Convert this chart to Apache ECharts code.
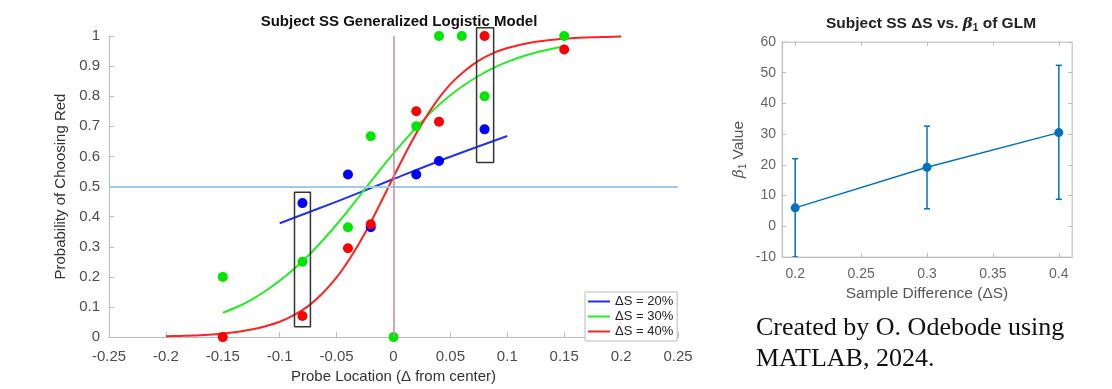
<!DOCTYPE html>
<html>
<head>
<meta charset="utf-8">
<script src="https://cdn.jsdelivr.net/npm/echarts@6/dist/echarts.min.js"></script>
<style>
  html, body { margin: 0; padding: 0; background: #fff; }
  #main { width: 1112px; height: 389px; }
</style>
</head>
<body>
<div id="main"></div>
<script>
// ---- left panel: observed proportions (probe location vs. P(red)) ----
var blueX = [-0.08, -0.04, -0.02, 0.02, 0.04, 0.08];
var blueY = [0.445, 0.54, 0.365, 0.54, 0.585, 0.69];
var greenX = [-0.15, -0.08, -0.04, -0.02, 0, 0.02, 0.04, 0.06, 0.08, 0.15];
var greenY = [0.2, 0.25, 0.365, 0.667, 0, 0.7, 1, 1, 0.8, 1];
var redX = [-0.15, -0.08, -0.04, -0.02, 0.02, 0.04, 0.08, 0.15];
var redY = [0, 0.07, 0.295, 0.375, 0.75, 0.715, 1, 0.955];

// fitted curves
var fitBlueX = [-0.1, -0.05, 0, 0.05, 0.1];
var fitBlueY = [0.378, 0.45, 0.525, 0.599, 0.668];
var fitGreenX = [-0.15, -0.1375, -0.125, -0.1125, -0.1, -0.0875, -0.075, -0.0625, -0.05, -0.0375, -0.025, -0.0125,
  0, 0.0125, 0.025, 0.0375, 0.05, 0.0625, 0.075, 0.0875, 0.1, 0.1125, 0.125, 0.1375, 0.15];
var fitGreenY = [0.081, 0.1, 0.124, 0.153, 0.187, 0.226, 0.27, 0.32, 0.374, 0.432, 0.492, 0.552,
  0.61, 0.665, 0.716, 0.763, 0.803, 0.838, 0.868, 0.893, 0.914, 0.931, 0.945, 0.956, 0.965];
var fitRedX = [-0.2, -0.1875, -0.175, -0.1625, -0.15, -0.1375, -0.125, -0.1125, -0.1, -0.0875, -0.075, -0.0625,
  -0.05, -0.0375, -0.025, -0.0125, 0, 0.0125, 0.025, 0.0375, 0.05, 0.0625, 0.075, 0.0875, 0.1, 0.1125,
  0.125, 0.1375, 0.15, 0.1625, 0.175, 0.1875, 0.2];
var fitRedY = [0.003, 0.004, 0.005, 0.008, 0.012, 0.017, 0.025, 0.036, 0.051, 0.073, 0.103, 0.145,
  0.198, 0.266, 0.346, 0.437, 0.532, 0.625, 0.709, 0.781, 0.84, 0.884, 0.918, 0.943, 0.96, 0.972,
  0.981, 0.987, 0.991, 0.994, 0.996, 0.997, 0.998];

// highlighted groups [x0, y0, x1, y1]
var boxRanges = [[-0.087, 0.034, -0.073, 0.481], [0.073, 0.58, 0.088, 1.027]];
var legendNames = ['ΔS = 20%', 'ΔS = 30%', 'ΔS = 40%'];

// ---- right panel: beta1 vs sample difference ----
var dsX = [0.2, 0.3, 0.4];
var beta1 = [6, 19.2, 30.5];
var betaLo = [-10, 5.7, 8.8];
var betaHi = [22, 32.6, 52.4];
var dsTicks = [0.2, 0.25, 0.3, 0.35, 0.4];

function zip(xs, ys) {
  return xs.map(function (x, i) { return [x, ys[i]]; });
}
function boxPath(b) {
  return [[b[0], b[1]], [b[2], b[1]], [b[2], b[3]], [b[0], b[3]], [b[0], b[1]]];
}

var FONT = '"Liberation Sans", Arial, sans-serif';
var axisGray = '#bdbdbd';
var labelGray = '#4d4d4d';
var matBlue = '#0072BD';

var chart = echarts.init(document.getElementById('main'));

var leftAxisCommon = {
  axisLine: { show: true, onZero: false, lineStyle: { color: axisGray, width: 1.2 } },
  axisTick: { show: true, inside: true, length: 5, lineStyle: { color: axisGray } },
  splitLine: { show: false },
  nameLocation: 'middle',
  nameTextStyle: { fontFamily: FONT, fontSize: 15, color: '#333' }
};

var option = {
  backgroundColor: '#fff',
  animation: false,
  title: [
    {
      text: 'Subject SS Generalized Logistic Model',
      left: 394, top: 9, textAlign: 'center',
      textStyle: { fontFamily: FONT, fontSize: 15, fontWeight: 'bold', color: '#111' }
    },
    {
      text: '{t|Subject SS ΔS vs. }{b|β}{s|1}{t| of GLM}',
      left: 926, top: 10, textAlign: 'center',
      textStyle: {
        rich: {
          t: { fontFamily: FONT, fontSize: 15.5, fontWeight: 'bold', color: '#222' },
          b: { fontFamily: '"DejaVu Serif", serif', fontStyle: 'italic', fontSize: 15, color: '#222' },
          s: { fontFamily: FONT, fontSize: 10, fontWeight: 'bold', color: '#222', padding: [8, 0, 0, 0] }
        }
      }
    }
  ],
  legend: {
    data: legendNames,
    orient: 'vertical',
    left: 585, top: 292,
    icon: 'rect', itemWidth: 22, itemHeight: 2, itemGap: 2,
    padding: [3, 4, 3, 3],
    borderColor: '#bbb', borderWidth: 1, backgroundColor: '#fff',
    textStyle: { fontFamily: FONT, fontSize: 13, color: '#222' }
  },
  grid: [
    { left: 109, right: 434, top: 36, bottom: 41 },
    { left: 782, right: 40, top: 42, bottom: 132, show: true, borderColor: '#cfcfcf', borderWidth: 1 }
  ],
  xAxis: [
    Object.assign({}, leftAxisCommon, {
      gridIndex: 0, type: 'value', min: -0.25, max: 0.25, interval: 0.05,
      name: 'Probe Location (Δ from center)', nameGap: 31,
      axisLabel: { fontFamily: FONT, fontSize: 15, color: labelGray, margin: 12 }
    }),
    {
      gridIndex: 1, type: 'value', min: 0.19, max: 0.41,
      name: 'Sample Difference (ΔS)', nameLocation: 'middle', nameGap: 29,
      nameTextStyle: { fontFamily: FONT, fontSize: 15.5, color: '#555' },
      axisLine: { show: true, onZero: false, lineStyle: { color: axisGray } },
      axisTick: { show: true, inside: true, length: 4, lineStyle: { color: axisGray }, customValues: dsTicks },
      axisLabel: { fontFamily: FONT, fontSize: 14, color: '#666', margin: 10, customValues: dsTicks },
      splitLine: { show: false }
    },
    {
      gridIndex: 1, type: 'value', position: 'top', min: 0.19, max: 0.41,
      axisLine: { show: true, onZero: false, lineStyle: { color: '#cfcfcf' } },
      axisTick: { show: true, inside: true, length: 4, lineStyle: { color: axisGray }, customValues: dsTicks },
      axisLabel: { show: false },
      splitLine: { show: false }
    }
  ],
  yAxis: [
    Object.assign({}, leftAxisCommon, {
      gridIndex: 0, type: 'value', min: 0, max: 1, interval: 0.1,
      name: 'Probability of Choosing Red', nameGap: 32,
      axisLabel: { fontFamily: FONT, fontSize: 15, color: labelGray, margin: 9 }
    }),
    {
      gridIndex: 1, type: 'value', min: -10, max: 60, interval: 10,
      name: '{b|β}{s|1}{t| Value}', nameLocation: 'middle', nameGap: 34,
      nameTextStyle: {
        rich: {
          t: { fontFamily: FONT, fontSize: 15.5, color: '#555' },
          b: { fontFamily: '"DejaVu Serif", serif', fontStyle: 'italic', fontSize: 15, color: '#555' },
          s: { fontFamily: FONT, fontSize: 10, color: '#555', padding: [8, 0, 0, 0] }
        }
      },
      axisLine: { show: true, onZero: false, lineStyle: { color: axisGray } },
      axisTick: { show: true, inside: true, length: 4, lineStyle: { color: axisGray } },
      axisLabel: { fontFamily: FONT, fontSize: 14, color: '#666', margin: 6 },
      splitLine: { show: false }
    },
    {
      gridIndex: 1, type: 'value', position: 'right', min: -10, max: 60, interval: 10,
      axisLine: { show: true, onZero: false, lineStyle: { color: '#cfcfcf' } },
      axisTick: { show: true, inside: true, length: 4, lineStyle: { color: axisGray } },
      axisLabel: { show: false },
      splitLine: { show: false }
    }
  ],
  series: [
    // reference lines
    {
      type: 'line', xAxisIndex: 0, yAxisIndex: 0, data: [], z: 1, silent: true,
      markLine: {
        silent: true, symbol: 'none', label: { show: false },
        data: [
          { yAxis: 0.5, lineStyle: { color: '#9fcbea', width: 2, type: 'solid' } },
          { xAxis: 0, lineStyle: { color: '#c98d99', width: 1.5, type: 'solid' } }
        ]
      }
    },
    // fitted curves
    { name: legendNames[0], type: 'line', xAxisIndex: 0, yAxisIndex: 0, data: zip(fitBlueX, fitBlueY),
      smooth: 0.3, showSymbol: false, symbol: 'none', color: '#2233ee', lineStyle: { width: 2 }, z: 2 },
    { name: legendNames[1], type: 'line', xAxisIndex: 0, yAxisIndex: 0, data: zip(fitGreenX, fitGreenY),
      smooth: 0.3, showSymbol: false, symbol: 'none', color: '#22ee22', lineStyle: { width: 2 }, z: 2 },
    { name: legendNames[2], type: 'line', xAxisIndex: 0, yAxisIndex: 0, data: zip(fitRedX, fitRedY),
      smooth: 0.3, showSymbol: false, symbol: 'none', color: '#ff2222', lineStyle: { width: 2 }, z: 2 },
    // observed points
    { name: 'pts20', type: 'scatter', xAxisIndex: 0, yAxisIndex: 0, data: zip(blueX, blueY),
      symbolSize: 10, itemStyle: { color: '#0000ff', opacity: 1 }, z: 3, clip: false },
    { name: 'pts30', type: 'scatter', xAxisIndex: 0, yAxisIndex: 0, data: zip(greenX, greenY),
      symbolSize: 10, itemStyle: { color: '#00e600', opacity: 1 }, z: 3, clip: false },
    { name: 'pts40', type: 'scatter', xAxisIndex: 0, yAxisIndex: 0, data: zip(redX, redY),
      symbolSize: 10, itemStyle: { color: '#ff0000', opacity: 1 }, z: 3, clip: false },
    // highlight boxes
    { name: 'box1', type: 'line', xAxisIndex: 0, yAxisIndex: 0, data: boxPath(boxRanges[0]),
      symbol: 'none', clip: false, color: '#333', lineStyle: { width: 1.5 }, z: 4, silent: true },
    { name: 'box2', type: 'line', xAxisIndex: 0, yAxisIndex: 0, data: boxPath(boxRanges[1]),
      symbol: 'none', clip: false, color: '#333', lineStyle: { width: 1.5 }, z: 4, silent: true },
    // right panel error bars
    {
      type: 'custom', xAxisIndex: 1, yAxisIndex: 1, clip: true, z: 2,
      data: dsX.map(function (x, i) { return [x, betaLo[i], betaHi[i]]; }),
      renderItem: function (params, api) {
        var top = api.coord([api.value(0), api.value(2)]);
        var bot = api.coord([api.value(0), api.value(1)]);
        var cap = 3;
        var st = { stroke: matBlue, lineWidth: 1.5 };
        return {
          type: 'group',
          children: [
            { type: 'line', shape: { x1: top[0], y1: top[1], x2: bot[0], y2: bot[1] }, style: st },
            { type: 'line', shape: { x1: top[0] - cap, y1: top[1], x2: top[0] + cap, y2: top[1] }, style: st },
            { type: 'line', shape: { x1: bot[0] - cap, y1: bot[1], x2: bot[0] + cap, y2: bot[1] }, style: st }
          ]
        };
      }
    },
    {
      type: 'line', xAxisIndex: 1, yAxisIndex: 1, data: zip(dsX, beta1),
      symbol: 'circle', symbolSize: 9, color: matBlue, itemStyle: { opacity: 1 }, lineStyle: { width: 1.5 }, z: 3
    }
  ],
  graphic: [
    {
      type: 'text', left: 756, top: 313,
      style: {
        text: 'Created by O. Odebode using\nMATLAB, 2024.',
        font: '26px "Liberation Serif", "Times New Roman", serif',
        lineHeight: 31, fill: '#111'
      }
    }
  ]
};

chart.setOption(option);
window.onresize = function () { chart.resize(); };
</script>
</body>
</html>
